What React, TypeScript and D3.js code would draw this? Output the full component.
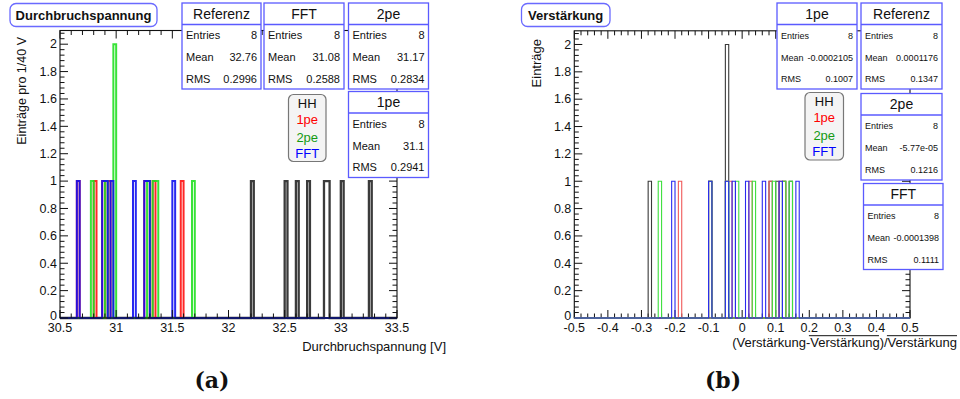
import React from 'react';
import * as d3 from 'd3';

// Durchbruchspannung je Methode [V], 8 SiPMs
const bdRef = [32.21, 32.51, 32.61, 32.71, 32.86, 32.89, 33.01, 33.27];
const bd1pe = [30.66, 30.81, 30.885, 30.935, 31.265, 31.29, 31.34, 31.59];
const bd2pe = [30.79, 30.915, 30.99, 30.99, 31.29, 31.34, 31.365, 31.69];
const bdFft = [30.66, 30.89, 30.91, 30.96, 31.16, 31.26, 31.29, 31.51];

// relative Abweichung der Verstärkung vom Mittelwert
const gRef = [-0.275, -0.095, -0.045, -0.045, 0.085, 0.105, 0.125, 0.145];
const g1pe = [-0.185, -0.095, -0.045, -0.035, 0.025, 0.085, 0.115, 0.125];
const g2pe = [-0.245, -0.095, -0.045, -0.015, 0.035, 0.095, 0.125, 0.145];
const gFft = [-0.205, -0.095, -0.045, -0.025, 0.015, 0.065, 0.115, 0.165];

// statistics boxes: name, mean, rms
const bdStatNames = ['Referenz', 'FFT', '2pe', '1pe'];
const bdStatMeans = ['32.76', '31.08', '31.17', '31.1'];
const bdStatRms = ['0.2996', '0.2588', '0.2834', '0.2941'];

const gStatNames = ['1pe', 'Referenz', '2pe', 'FFT'];
const gStatMeans = ['-0.0002105', '0.0001176', '-5.77e-05', '-0.0001398'];
const gStatRms = ['0.1007', '0.1347', '0.1216', '0.1111'];

const legendLabels = ['HH', '1pe', '2pe', 'FFT'];

// x title of panel (b): pieces, the barred ones denote mean values
const gainTitleParts: { t: string; bar: boolean }[] = [
  { t: '(Verstärkung-', bar: false },
  { t: 'Verstärkung', bar: true },
  { t: ')/', bar: false },
  { t: 'Verstärkung', bar: true },
];

const SANS = 'Liberation Sans, Arial, Helvetica, sans-serif';

// advance widths (em) of Liberation Sans / Arial for the glyphs used in the title
const ADV: Record<string, number> = {
  '(': 0.333, ')': 0.333, '-': 0.333, '/': 0.278,
  V: 0.667, e: 0.556, r: 0.333, s: 0.5, t: 0.278, 'ä': 0.556, k: 0.5, u: 0.556, n: 0.556, g: 0.556,
};
const textWidth = (s: string, size: number) => Array.from(s).reduce((a, c) => a + (ADV[c] ?? 0.556), 0) * size;

type Series = { values: number[]; color: string; width: number };

function histPath(
  values: number[],
  lo: number,
  hi: number,
  n: number,
  x: d3.ScaleLinear<number, number>,
  y: d3.ScaleLinear<number, number>
) {
  const w = (hi - lo) / n;
  const counts = new Array(n).fill(0);
  values.forEach((v) => {
    const i = Math.floor((v - lo) / w + 1e-9);
    if (i >= 0 && i < n) counts[i]++;
  });
  const p = d3.path();
  p.moveTo(x(lo), y(0));
  let prev = 0;
  for (let i = 0; i < n; i++) {
    if (counts[i] !== prev) {
      const xe = x(lo + i * w);
      p.lineTo(xe, y(prev));
      p.lineTo(xe, y(counts[i]));
      prev = counts[i];
    }
  }
  p.lineTo(x(hi), y(prev));
  p.lineTo(x(hi), y(0));
  return p.toString();
}

const fmt = (v: number) => String(+v.toFixed(2));

type Box = { x: number; y: number; w: number; h: number };

function StatBox({
  box,
  name,
  entries,
  mean,
  rms,
  titleSize,
  rowSize,
}: {
  box: Box;
  name: string;
  entries: number;
  mean: string;
  rms: string;
  titleSize: number;
  rowSize: number;
}) {
  const rows = [
    ['Entries', String(entries)],
    ['Mean', mean],
    ['RMS', rms],
  ];
  const rowY = [32.5, 54.5, 76];
  return (
    <g>
      <rect x={box.x} y={box.y} width={box.w} height={box.h} fill="#fff" stroke="#5a5aff" strokeWidth={1.3} />
      <line x1={box.x} x2={box.x + box.w} y1={box.y + 21.5} y2={box.y + 21.5} stroke="#5a5aff" strokeWidth={1.3} />
      <text x={box.x + box.w / 2} y={box.y + 10.8 + titleSize * 0.36} textAnchor="middle" fontSize={titleSize} fontFamily={SANS} fill="#111">
        {name}
      </text>
      {rows.map((r, i) => (
        <g key={i}>
          <text x={box.x + 4} y={box.y + rowY[i] + rowSize * 0.36} fontSize={rowSize} fontFamily={SANS} fill="#111">
            {r[0]}
          </text>
          <text x={box.x + box.w - 4} y={box.y + rowY[i] + rowSize * 0.36} textAnchor="end" fontSize={rowSize} fontFamily={SANS} fill="#111">
            {r[1]}
          </text>
        </g>
      ))}
    </g>
  );
}

function Legend({ box }: { box: Box }) {
  const colors = ['#111', '#ff0000', '#139a13', '#0000ff'];
  const ys = [8.5, 25, 43, 59];
  return (
    <g>
      <rect x={box.x} y={box.y} width={box.w} height={box.h} rx={5} fill="#f4f4f4" stroke="#777" strokeWidth={1.2} />
      {legendLabels.map((l, i) => (
        <text key={l} x={box.x + box.w / 2} y={box.y + ys[i] + 4.7} textAnchor="middle" fontSize={13} fontFamily={SANS} fill={colors[i]}>
          {l}
        </text>
      ))}
    </g>
  );
}

function Axes({
  x,
  y,
  xMin,
  nMinorX,
  stepX,
  nMinorY,
  stepY,
}: {
  x: d3.ScaleLinear<number, number>;
  y: d3.ScaleLinear<number, number>;
  xMin: number;
  nMinorX: number;
  stepX: number;
  nMinorY: number;
  stepY: number;
}) {
  const [x0, x1] = x.range();
  const [y0, y1] = y.range();
  const xt = d3.range(0, nMinorX + 1).map((i) => ({ v: xMin + i * stepX, major: i % 5 === 0 }));
  const yt = d3.range(0, nMinorY + 1).map((i) => ({ v: i * stepY, major: i % 5 === 0 }));
  return (
    <g fontFamily={SANS} fontSize={12.5} fill="#111">
      <rect x={x0} y={y1} width={x1 - x0} height={y0 - y1} fill="none" stroke="#111" strokeWidth={1.1} />
      {xt.map((t, i) => {
        const px = x(t.v);
        const len = t.major ? 8 : 4.5;
        return (
          <g key={'x' + i}>
            <line x1={px} x2={px} y1={y0} y2={y0 - len} stroke="#111" />
            <line x1={px} x2={px} y1={y1} y2={y1 + len} stroke="#111" />
            {t.major && (
              <text x={px} y={y0 + 14} textAnchor="middle">
                {fmt(t.v)}
              </text>
            )}
          </g>
        );
      })}
      {yt.map((t, i) => {
        const py = y(t.v);
        const len = t.major ? 8 : 4.5;
        return (
          <g key={'y' + i}>
            <line x1={x0} x2={x0 + len} y1={py} y2={py} stroke="#111" />
            <line x1={x1} x2={x1 - len} y1={py} y2={py} stroke="#111" />
            {t.major && (
              <text x={x0 - 3} y={py + (i === 0 ? 1.5 : 4.3)} textAnchor="end">
                {fmt(t.v)}
              </text>
            )}
          </g>
        );
      })}
    </g>
  );
}

// right-aligned axis title with a bar over the mean-value words
function BarredTitle({ x, y, size }: { x: number; y: number; size: number }) {
  const total = gainTitleParts.reduce((a, p) => a + textWidth(p.t, size), 0);
  let cur = x - total;
  const bars: [number, number][] = [];
  gainTitleParts.forEach((p) => {
    const w = textWidth(p.t, size);
    if (p.bar) bars.push([cur, cur + w]);
    cur += w;
  });
  return (
    <g>
      <text x={x} y={y} textAnchor="end" fontSize={size} fontFamily={SANS} fill="#111">
        {gainTitleParts.map((p) => p.t).join('')}
      </text>
      {bars.map(([a, b], i) => (
        <line key={i} x1={a} x2={b} y1={y - size * 0.87} y2={y - size * 0.87} stroke="#111" strokeWidth={1} />
      ))}
    </g>
  );
}

export default function App() {
  // Panel (a): Durchbruchspannung
  const xa = d3.scaleLinear().domain([30.5, 33.5]).range([60, 397]);
  const ya = d3.scaleLinear().domain([0, 2.1]).range([318, 30.5]);
  const seriesA: Series[] = [
    { values: bdRef, color: '#262626', width: 2.3 },
    { values: bd1pe, color: '#ff1010', width: 2 },
    { values: bd2pe, color: '#22e022', width: 2 },
    { values: bdFft, color: '#1010f0', width: 2 },
  ];

  // Panel (b): Verstärkung
  const xb = d3.scaleLinear().domain([-0.5, 0.5]).range([574.3, 910]);
  const yb = d3.scaleLinear().domain([0, 2.1]).range([318, 30.8]);
  const seriesB: Series[] = [
    { values: gRef, color: '#3a3a3a', width: 1.1 },
    { values: g1pe, color: '#f05a5a', width: 1.1 },
    { values: g2pe, color: '#3ee03e', width: 1.1 },
    { values: gFft, color: '#2a2af0', width: 1.1 },
  ];

  const boxesA: Box[] = [
    { x: 182, y: 3, w: 79, h: 86 },
    { x: 264, y: 3, w: 80, h: 86 },
    { x: 348.5, y: 3, w: 80, h: 86 },
    { x: 348.5, y: 91.5, w: 80, h: 86 },
  ];
  const boxesB: Box[] = [
    { x: 777, y: 3, w: 80, h: 86 },
    { x: 861, y: 3, w: 81, h: 86 },
    { x: 861, y: 93.5, w: 81, h: 86.5 },
    { x: 863.5, y: 183.5, w: 79.5, h: 86 },
  ];
  const entriesA = [bdRef, bdFft, bd2pe, bd1pe].map((s) => s.length);
  const entriesB = [g1pe, gRef, g2pe, gFft].map((s) => s.length);

  return (
    <svg width={960} height={399} style={{ position: 'absolute', left: 0, top: 0, background: '#fff' }}>
      <rect width={960} height={399} fill="#fff" />

      {/* (a) */}
      <g>
        {seriesA.map((s, i) => (
          <path key={i} d={histPath(s.values, 30.5, 33.5, 120, xa, ya)} fill="none" stroke={s.color} strokeWidth={s.width} strokeOpacity={0.9} />
        ))}
        <Axes x={xa} y={ya} xMin={30.5} nMinorX={30} stepX={0.1} nMinorY={52} stepY={0.04} />
        <text x={22} y={37} transform="rotate(-90 22 37)" dy={4} textAnchor="end" fontSize={12.5} fontFamily={SANS} fill="#111">
          Einträge pro 1/40 V
        </text>
        <text x={446} y={351} textAnchor="end" fontSize={13} fontFamily={SANS} fill="#111">
          Durchbruchspannung [V]
        </text>
        <rect x={10} y={3.5} width={147} height={23} rx={6} fill="#fff" stroke="#6a6aff" strokeWidth={1.3} />
        <text x={83.5} y={19.7} textAnchor="middle" fontSize={13} fontWeight="bold" fontFamily={SANS} fill="#111">
          Durchbruchspannung
        </text>
        {boxesA.map((b, i) => (
          <StatBox key={i} box={b} name={bdStatNames[i]} entries={entriesA[i]} mean={bdStatMeans[i]} rms={bdStatRms[i]} titleSize={14} rowSize={11} />
        ))}
        <Legend box={{ x: 288.5, y: 94.5, w: 37.5, h: 67 }} />
        <text x={212} y={388} textAnchor="middle" fontSize={22} fontWeight="bold" fontFamily="DejaVu Serif, serif" fill="#111">
          (a)
        </text>
      </g>

      {/* (b) */}
      <g>
        <Axes x={xb} y={yb} xMin={-0.5} nMinorX={50} stepX={0.02} nMinorY={52} stepY={0.04} />
        {seriesB.map((s, i) => (
          <path key={i} d={histPath(s.values, -0.5, 0.5, 100, xb, yb)} fill="none" stroke={s.color} strokeWidth={s.width} />
        ))}
        <text x={537} y={39} transform="rotate(-90 537 39)" dy={4} textAnchor="end" fontSize={13} fontFamily={SANS} fill="#111">
          Einträge
        </text>
        <BarredTitle x={957} y={347} size={13} />
        <rect x={521.5} y={3.5} width={88.5} height={23} rx={6} fill="#fff" stroke="#6a6aff" strokeWidth={1.3} />
        <text x={565.7} y={19.7} textAnchor="middle" fontSize={13} fontWeight="bold" fontFamily={SANS} fill="#111">
          Verstärkung
        </text>
        {boxesB.map((b, i) => (
          <StatBox key={i} box={b} name={gStatNames[i]} entries={entriesB[i]} mean={gStatMeans[i]} rms={gStatRms[i]} titleSize={14} rowSize={9} />
        ))}
        <Legend box={{ x: 805, y: 92.5, w: 38.5, h: 67.5 }} />
        <text x={723} y={388} textAnchor="middle" fontSize={22} fontWeight="bold" fontFamily="DejaVu Serif, serif" fill="#111">
          (b)
        </text>
      </g>
    </svg>
  );
}
